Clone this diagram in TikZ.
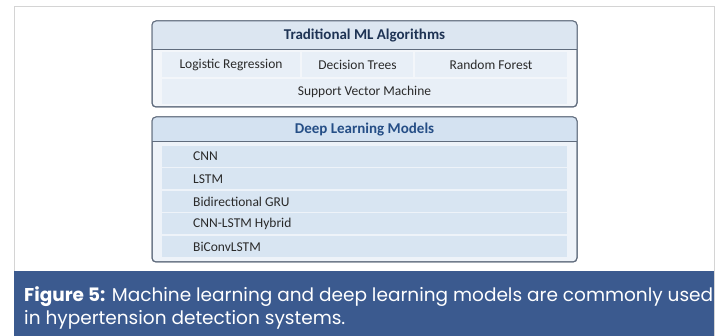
\documentclass[tikz,border=0pt]{standalone}
\usepackage{fontspec}
\setmainfont{Carlito}
\newfontfamily\captionfont{Poppins}
\usetikzlibrary{positioning}

\definecolor{frameline}{HTML}{D4D4D4}
\definecolor{capblue}{HTML}{3B5A8F}
\definecolor{boxline}{HTML}{606C7D}
\definecolor{mlhead}{HTML}{DCE6F1}
\definecolor{mlback}{HTML}{F3F6FA}
\definecolor{mlcell}{HTML}{E8EFF7}
\definecolor{dlhead}{HTML}{D4E2F1}
\definecolor{dlback}{HTML}{EEF3F9}
\definecolor{dlcell}{HTML}{D8E5F2}
\definecolor{mltitle}{HTML}{1E3354}
\definecolor{dltitle}{HTML}{254E86}
\definecolor{itemtext}{HTML}{2A2A2A}

\tikzset{
    groupbox/.style={draw=boxline, line width=1pt, rounded corners=4pt, inner sep=0pt},
    headtitle/.style={font=\fontsize{15}{17}\selectfont\bfseries},
    mlcellbox/.style={fill=mlcell, inner sep=0pt, minimum height=25pt, text=itemtext,
        font=\fontsize{13.5}{15}\selectfont},
    dlcellbox/.style={fill=dlcell, inner sep=0pt, minimum height=21pt, minimum width=405pt},
}

\begin{document}
\begin{tikzpicture}[x=1pt, y=-1pt]

    \useasboundingbox (0, 0) rectangle (719, 336);
    \fill[white] (0, 0) rectangle (719, 336);
    \draw[frameline, line width=1pt] (14, 340) -- (14, 7) -- (714, 7) -- (714, 340);
    \fill[capblue] (14, 271) rectangle (714, 336);

    \node[groupbox, fill=mlback, minimum width=425pt, minimum height=86pt] (mlbox) at (364.5, 64) {};
    \fill[mlhead] (152, 50) {[rounded corners=4pt] -- (152, 21) -- (577, 21)} -- (577, 50) -- cycle;
    \draw[boxline, line width=1pt] (152, 50) -- (577, 50);
    \node[groupbox, minimum width=425pt, minimum height=86pt] at (mlbox) {};
    \node[headtitle, text=mltitle] (mlheader) at (364.5, 36) {Traditional ML Algorithms};

    \node[mlcellbox, minimum width=138pt] (lr) at (231, 64.5) {Logistic Regression};
    \node[mlcellbox, minimum width=111pt] (dt) at (357.5, 64.5) {Decision Trees};
    \node[mlcellbox, minimum width=152pt] (rf) at (491, 64.5) {Random Forest};
    \node[mlcellbox, minimum width=405pt] (svm) at (364.5, 92) {Support Vector Machine};

    \node[groupbox, fill=dlback, minimum width=425pt, minimum height=145pt] (dlbox) at (364.5, 189.5) {};
    \fill[dlhead] (152, 142) {[rounded corners=4pt] -- (152, 117) -- (577, 117)} -- (577, 142) -- cycle;
    \draw[boxline, line width=1pt] (152, 142) -- (577, 142);
    \node[groupbox, minimum width=425pt, minimum height=145pt] at (dlbox) {};
    \node[headtitle, text=dltitle] (dlheader) at (364.5, 130) {Deep Learning Models};

    \foreach \i/\name in {1/CNN, 2/LSTM, 3/Bidirectional GRU, 4/CNN-LSTM Hybrid, 5/BiConvLSTM} {
            \node[dlcellbox] (dl-\i) at (364.5, 134 + 22.5*\i) {};
            \node[anchor=west, text=itemtext, font=\fontsize{13.5}{15}\selectfont, inner sep=0pt]
                (dltext-\i) at (193, 134 + 22.5*\i) {\name};
        }

    \node[anchor=north west, inner sep=0pt, align=left, text=white,
        font=\captionfont\fontsize{18.5}{23}\selectfont] (caption) at (24, 286)
        {\textbf{Figure 5:} Machine learning and deep learning models are commonly used\\
        in hypertension detection systems.};

\end{tikzpicture}
\end{document}
